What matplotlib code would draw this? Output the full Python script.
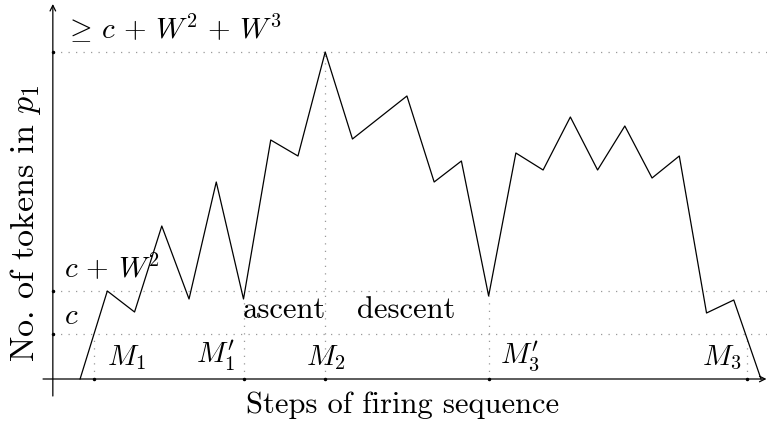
import numpy as np
import matplotlib
matplotlib.use("Agg")
import matplotlib.pyplot as plt

plt.rcParams["font.family"] = "cmr10"
plt.rcParams["mathtext.fontset"] = "cm"
plt.rcParams["axes.formatter.use_mathtext"] = True

# firing steps and token counts in p1
steps = [0, 1, 2, 3, 4, 5, 6, 7, 8, 9, 10, 12, 13, 14, 15, 16, 17, 18, 19, 20, 21, 22, 23, 24, 25]
tokens = [0, 88, 67, 153, 80, 197, 80, 239, 223, 327, 240, 283, 197, 218, 83,
          226, 209, 262, 209, 253, 201, 223, 66, 79, 0]

# levels on the y axis
levels = [45, 88, 327]
level_labels = [r"$c$", r"$c\,+\,W^2$", r"$\geq\, c\,+\,W^2\,+\,W^3$"]

# markings on the x axis
marks = [0.5, 6, 9, 15, 24.5]
mark_labels = [r"$M_1$", r"$M_1'$", r"$M_2$", r"$M_3'$", r"$M_3$"]

fig = plt.figure(figsize=(7.67, 4.27), dpi=100)
ax = fig.add_axes([0, 0, 1, 1])
ax.set_xlim(-2.94, 25.22)
ax.set_ylim(-47, 380)
ax.axis("off")

dot = dict(color="#999999", lw=0.9, ls=(0, (1, 5)))

# horizontal guide lines
for lv in levels:
    ax.plot([-1, 25.22], [lv, lv], **dot)

# vertical guide lines up to the curve
for m in marks:
    h = np.interp(m, steps, tokens)
    ax.plot([m, m], [0, h], **dot)

# the curve
ax.plot(steps, tokens, color="black", lw=0.9)

# axes with arrows
arrow = dict(arrowstyle="->", lw=0.9, color="black", shrinkA=0, shrinkB=0)
ax.annotate("", xy=(25.2, 0), xytext=(-1.36, 0), arrowprops=arrow,
            annotation_clip=False)
ax.annotate("", xy=(-1, 375), xytext=(-1, -17), arrowprops=arrow,
            annotation_clip=False)

# tick dots
ax.plot([-1] * len(levels), levels, "k.", ms=3)
ax.plot(marks, [0] * len(marks), "k.", ms=3)

fs = 21
ax.text(-0.6, 63, level_labels[0], fontsize=fs, va="center", ha="left")
ax.text(-0.6, 112, level_labels[1], fontsize=fs, va="center", ha="left")
ax.text(-0.6, 352, level_labels[2], fontsize=fs, va="center", ha="left")

ax.text(1.0, 22, mark_labels[0], fontsize=fs, va="center", ha="left")
ax.text(5.7, 24, mark_labels[1], fontsize=fs, va="center", ha="right")
ax.text(9.0, 22, mark_labels[2], fontsize=fs, va="center", ha="center")
ax.text(15.4, 24, mark_labels[3], fontsize=fs, va="center", ha="left")
ax.text(24.3, 22, mark_labels[4], fontsize=fs, va="center", ha="right")

ax.text(7.5, 70, "ascent", fontsize=22, va="center", ha="center")
ax.text(11.96, 70, "descent", fontsize=22, va="center", ha="center")

ax.text(11.85, -25, "Steps of firing sequence", fontsize=22, va="center", ha="center")
ax.text(-2.0, 157, r"No. of tokens in $p_1$", fontsize=24.5, va="center", ha="center",
        rotation=90)

fig.savefig("out.png", dpi=100)
